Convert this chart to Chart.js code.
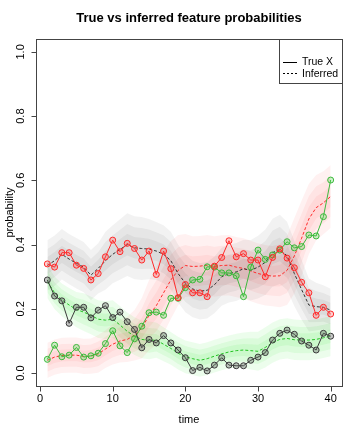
<!DOCTYPE html>
<html>
<head>
<meta charset="utf-8">
<script src="https://cdn.jsdelivr.net/npm/chart.js@4"></script>
<style>
  html, body { margin: 0; padding: 0; background: #fff; }
  #wrap { width: 360px; height: 436px; position: relative; }
</style>
</head>
<body>
<div id="wrap"><canvas id="chart"></canvas></div>
<script>
// time axis
const timePoints = [1,2,3,4,5,6,7,8,9,10,11,12,13,14,15,16,17,18,19,20,
                    21,22,23,24,25,26,27,28,29,30,31,32,33,34,35,36,37,38,39,40];
const xTicks = [0, 10, 20, 30, 40];
const yTicks = [0.0, 0.2, 0.4, 0.6, 0.8, 1.0];

// true feature probabilities
const trueGray = [0.29,0.24,0.225,0.155,0.205,0.205,0.172,0.196,0.21,0.173,
                  0.19,0.16,0.136,0.079,0.105,0.094,0.117,0.094,0.072,0.048,
                  0.008,0.018,0.007,0.025,0.048,0.025,0.023,0.023,0.04,0.05,
                  0.064,0.103,0.124,0.134,0.121,0.1,0.087,0.072,0.124,0.115];
const trueRed = [0.34,0.33,0.375,0.375,0.336,0.326,0.29,0.31,0.362,0.414,
                 0.378,0.404,0.388,0.352,0.38,0.307,0.38,0.325,0.235,0.276,
                 0.25,0.25,0.238,0.333,0.36,0.412,0.362,0.372,0.352,0.352,
                 0.3,0.36,0.387,0.358,0.328,0.283,0.25,0.18,0.205,0.184];
const trueGreen = [0.043,0.087,0.051,0.056,0.08,0.05,0.054,0.062,0.092,0.132,
                   0.085,0.064,0.107,0.146,0.188,0.19,0.18,0.233,0.233,0.266,
                   0.29,0.292,0.331,0.33,0.312,0.312,0.303,0.238,0.33,0.383,
                   0.354,0.368,0.383,0.409,0.39,0.394,0.43,0.427,0.487,0.601];

// inferred (posterior mean)
const infGray = [0.335,0.35,0.37,0.355,0.342,0.33,0.305,0.326,0.35,0.37,
                 0.385,0.4,0.39,0.388,0.386,0.38,0.37,0.35,0.31,0.28,
                 0.262,0.255,0.258,0.275,0.3,0.31,0.315,0.325,0.32,0.33,
                 0.345,0.375,0.385,0.365,0.31,0.26,0.212,0.207,0.205,0.196];
const infRed = [0.04,0.05,0.055,0.056,0.056,0.052,0.053,0.06,0.075,0.09,
                0.1,0.105,0.118,0.14,0.18,0.21,0.25,0.29,0.32,0.335,
                0.332,0.333,0.336,0.332,0.335,0.336,0.33,0.326,0.318,0.31,
                0.305,0.302,0.303,0.32,0.365,0.42,0.48,0.515,0.53,0.55];
const infGreen = [0.285,0.25,0.228,0.212,0.198,0.19,0.18,0.168,0.165,0.168,
                  0.15,0.13,0.115,0.105,0.102,0.103,0.09,0.077,0.062,0.051,
                  0.045,0.04,0.045,0.053,0.06,0.066,0.07,0.072,0.07,0.068,
                  0.08,0.095,0.105,0.108,0.104,0.103,0.103,0.105,0.11,0.115];

// posterior spread
const sdGray = [0.04,0.04,0.04,0.04,0.04,0.04,0.04,0.04,0.046,0.046,
                0.048,0.05,0.05,0.05,0.048,0.046,0.046,0.046,0.046,0.046,
                0.045,0.045,0.045,0.045,0.046,0.046,0.046,0.046,0.048,0.05,
                0.052,0.054,0.055,0.054,0.052,0.048,0.042,0.038,0.035,0.034];
const sdRed = [0.028,0.028,0.028,0.028,0.028,0.028,0.028,0.03,0.03,0.032,
               0.034,0.036,0.04,0.048,0.056,0.062,0.065,0.062,0.056,0.05,
               0.048,0.048,0.048,0.048,0.048,0.048,0.048,0.048,0.048,0.048,
               0.048,0.048,0.05,0.055,0.06,0.06,0.056,0.052,0.05,0.05];
const sdGreen = [0.026,0.026,0.026,0.027,0.028,0.03,0.03,0.03,0.03,0.03,
                 0.03,0.03,0.03,0.03,0.03,0.028,0.027,0.026,0.026,0.026,
                 0.026,0.026,0.026,0.026,0.026,0.026,0.027,0.028,0.03,0.031,
                 0.032,0.032,0.032,0.032,0.032,0.032,0.032,0.032,0.032,0.032];

const bandLevels = [1.96, 1.28, 0.67];

const FONT = '"Liberation Sans", Arial, Helvetica, sans-serif';

function pts(arr) {
  return timePoints.map((t, i) => ({ x: t, y: arr[i] }));
}

// interval bands: pair of datasets, upper fills down to lower
function bands(mean, sd, color) {
  const out = [];
  bandLevels.forEach(z => {
    out.push({
      data: pts(mean.map((m, i) => m - z * sd[i])),
      borderWidth: 0, pointRadius: 0, fill: false, order: 10
    });
    out.push({
      data: pts(mean.map((m, i) => m + z * sd[i])),
      borderWidth: 0, pointRadius: 0, fill: '-1', backgroundColor: color, order: 10
    });
  });
  return out;
}

function dashed(mean, color) {
  return { data: pts(mean), borderColor: color, borderWidth: 1, borderDash: [3, 2],
           pointRadius: 0, fill: false, order: 5 };
}

function solid(vals, color, fillColor) {
  return { data: pts(vals), borderColor: color, borderWidth: 1, fill: false,
           pointRadius: 3, pointBorderWidth: 1, pointBorderColor: color,
           pointBackgroundColor: fillColor, order: 1 };
}

const datasets = [
  ...bands(infGray, sdGray, 'rgba(0,0,0,0.05)'),
  ...bands(infRed, sdRed, 'rgba(255,0,0,0.055)'),
  ...bands(infGreen, sdGreen, 'rgba(0,230,0,0.075)'),
  dashed(infGray, '#333333'),
  dashed(infRed, '#ff2a2a'),
  dashed(infGreen, '#22c322'),
  solid(trueGray, '#3a3a3a', 'rgba(90,90,90,0.35)'),
  solid(trueRed, '#ff2a2a', 'rgba(255,60,60,0.25)'),
  solid(trueGreen, '#3cb93c', 'rgba(60,210,60,0.25)')
];

// R-style box, axes, titles and legend
const rDecor = {
  id: 'rDecor',
  afterDraw(chart) {
    const { ctx, chartArea: a, scales: { x, y } } = chart;
    ctx.save();
    ctx.strokeStyle = '#444';
    ctx.lineWidth = 1;
    ctx.strokeRect(Math.round(a.left) + 0.5, Math.round(a.top) + 0.5,
                   Math.round(a.right - a.left), Math.round(a.bottom - a.top));

    ctx.fillStyle = '#000';
    ctx.font = '11px ' + FONT;

    // x axis
    const xb = Math.round(a.bottom) + 0.5;
    ctx.beginPath();
    xTicks.forEach(v => {
      const px = Math.round(x.getPixelForValue(v)) + 0.5;
      ctx.moveTo(px, xb); ctx.lineTo(px, xb + 5);
    });
    ctx.stroke();
    ctx.textAlign = 'center';
    ctx.textBaseline = 'middle';
    xTicks.forEach(v => ctx.fillText(String(v), x.getPixelForValue(v), a.bottom + 13));

    // y axis
    const yl = Math.round(a.left) + 0.5;
    ctx.beginPath();
    yTicks.forEach(v => {
      const py = Math.round(y.getPixelForValue(v)) + 0.5;
      ctx.moveTo(yl, py); ctx.lineTo(yl - 5, py);
    });
    ctx.stroke();
    yTicks.forEach(v => {
      ctx.save();
      ctx.translate(a.left - 15, y.getPixelForValue(v));
      ctx.rotate(-Math.PI / 2);
      ctx.fillText(v.toFixed(1), 0, 0);
      ctx.restore();
    });

    // axis titles
    ctx.fillText('time', (a.left + a.right) / 2, a.bottom + 34);
    ctx.save();
    ctx.translate(10, (a.top + a.bottom) / 2);
    ctx.rotate(-Math.PI / 2);
    ctx.fillText('probability', 0, 0);
    ctx.restore();

    // main title
    ctx.font = 'bold 13px ' + FONT;
    ctx.fillText('True vs inferred feature probabilities', (a.left + a.right) / 2, 18);

    // legend box (top right)
    const lx = 279.5, ly = Math.round(a.top) + 0.5, lw = Math.round(a.right) - 279, lh = 44;
    ctx.fillStyle = '#fff';
    ctx.fillRect(lx, ly, lw, lh);
    ctx.strokeStyle = '#444';
    ctx.strokeRect(lx, ly, lw, lh);
    ctx.strokeStyle = '#000';
    ctx.beginPath();
    ctx.moveTo(283, 62.5); ctx.lineTo(297, 62.5);
    ctx.stroke();
    ctx.setLineDash([2, 2]);
    ctx.beginPath();
    ctx.moveTo(283, 73.5); ctx.lineTo(297, 73.5);
    ctx.stroke();
    ctx.setLineDash([]);
    ctx.fillStyle = '#000';
    ctx.font = '10.5px ' + FONT;
    ctx.textAlign = 'left';
    ctx.fillText('True X', 302, 62);
    ctx.fillText('Inferred', 302, 74);
    ctx.restore();
  }
};

new Chart(document.getElementById('chart').getContext('2d'), {
  type: 'line',
  data: { datasets },
  options: {
    responsive: true,
    maintainAspectRatio: false,
    animation: false,
    layout: { padding: { left: 36, top: 39, right: 18, bottom: 50 } },
    plugins: {
      legend: { display: false },
      tooltip: { enabled: false },
      title: { display: false }
    },
    scales: {
      x: { type: 'linear', min: -0.56, max: 41.56, display: false },
      y: { type: 'linear', min: -0.04, max: 1.04, display: false }
    }
  },
  plugins: [rDecor]
});
</script>
</body>
</html>
